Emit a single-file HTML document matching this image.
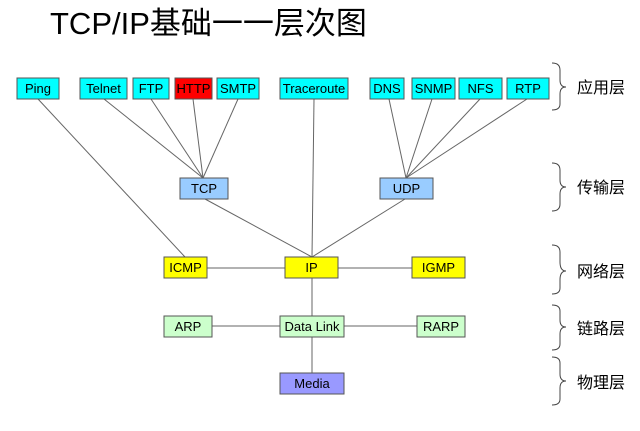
<!DOCTYPE html>
<html><head><meta charset="utf-8"><style>
body{margin:0;background:#fff;}
svg text{font-family:"Liberation Sans","Noto Sans CJK SC",sans-serif;}
</style></head><body>
<svg width="640" height="426" viewBox="0 0 640 426" xmlns="http://www.w3.org/2000/svg">
<text x="50" y="34" font-size="31" fill="#000">TCP/IP基础一一层次图</text>
<g stroke="#666" stroke-width="1" fill="none">
<line x1="38" y1="99" x2="185" y2="257"/>
<line x1="104" y1="99" x2="203" y2="178"/>
<line x1="151" y1="99" x2="203" y2="178"/>
<line x1="193" y1="99" x2="203" y2="178"/>
<line x1="238" y1="99" x2="203" y2="178"/>
<line x1="314" y1="99" x2="312" y2="257"/>
<line x1="389" y1="99" x2="406" y2="178"/>
<line x1="432" y1="99" x2="406" y2="178"/>
<line x1="480" y1="99" x2="406" y2="178"/>
<line x1="527" y1="99" x2="406" y2="178"/>
<line x1="205" y1="199" x2="312" y2="257"/>
<line x1="405" y1="199" x2="312" y2="257"/>
<line x1="207" y1="268" x2="285" y2="268"/>
<line x1="338" y1="268" x2="412" y2="268"/>
<line x1="312" y1="278" x2="312" y2="316"/>
<line x1="212" y1="326" x2="280" y2="326"/>
<line x1="344" y1="326" x2="417" y2="326"/>
<line x1="312" y1="337" x2="312" y2="373"/>
</g>
<g stroke="#555" stroke-width="1" font-size="13" text-anchor="middle">
<rect x="17" y="78" width="42" height="21" fill="#00ffff"/><text x="38" y="93" stroke="none">Ping</text>
<rect x="80" y="78" width="47" height="21" fill="#00ffff"/><text x="103.5" y="93" stroke="none">Telnet</text>
<rect x="133" y="78" width="36" height="21" fill="#00ffff"/><text x="151" y="93" stroke="none">FTP</text>
<rect x="175" y="78" width="37" height="21" fill="#ff0000"/><text x="193.5" y="93" stroke="none">HTTP</text>
<rect x="217" y="78" width="42" height="21" fill="#00ffff"/><text x="238" y="93" stroke="none">SMTP</text>
<rect x="280" y="78" width="68" height="21" fill="#00ffff"/><text x="314" y="93" stroke="none">Traceroute</text>
<rect x="370" y="78" width="34" height="21" fill="#00ffff"/><text x="387" y="93" stroke="none">DNS</text>
<rect x="412" y="78" width="43" height="21" fill="#00ffff"/><text x="433.5" y="93" stroke="none">SNMP</text>
<rect x="459" y="78" width="43" height="21" fill="#00ffff"/><text x="480.5" y="93" stroke="none">NFS</text>
<rect x="507" y="78" width="42" height="21" fill="#00ffff"/><text x="528" y="93" stroke="none">RTP</text>
<rect x="180" y="178" width="48" height="21" fill="#99ccff"/><text x="204" y="193" stroke="none">TCP</text>
<rect x="380" y="178" width="53" height="21" fill="#99ccff"/><text x="406.5" y="193" stroke="none">UDP</text>
<rect x="164" y="257" width="43" height="21" fill="#ffff00"/><text x="185.5" y="272" stroke="none">ICMP</text>
<rect x="285" y="257" width="53" height="21" fill="#ffff00"/><text x="311.5" y="272" stroke="none">IP</text>
<rect x="412" y="257" width="53" height="21" fill="#ffff00"/><text x="438.5" y="272" stroke="none">IGMP</text>
<rect x="164" y="316" width="48" height="21" fill="#ccffcc"/><text x="188" y="331" stroke="none">ARP</text>
<rect x="280" y="316" width="64" height="21" fill="#ccffcc"/><text x="312" y="331" stroke="none">Data Link</text>
<rect x="417" y="316" width="48" height="21" fill="#ccffcc"/><text x="441" y="331" stroke="none">RARP</text>
<rect x="280" y="373" width="64" height="21" fill="#9999ff"/><text x="312" y="388" stroke="none">Media</text>
</g>
<g stroke="#444" stroke-width="1" fill="none">
<path d="M552 63 Q560 63 560 70 L560 80 Q560 87 566 87 Q560 87 560 94 L560 104 Q560 110 552 110"/>
<path d="M552 163 Q560 163 560 170 L560 180 Q560 187 566 187 Q560 187 560 194 L560 204 Q560 211 552 211"/>
<path d="M552 245 Q560 245 560 252 L560 262 Q560 271 566 271 Q560 271 560 280 L560 288 Q560 294 552 294"/>
<path d="M552 305 Q560 305 560 311 L560 320 Q560 327 566 327 Q560 327 560 334 L560 344 Q560 350 552 350"/>
<path d="M552 357 Q560 357 560 363 L560 374 Q560 381 566 381 Q560 381 560 388 L560 399 Q560 405 552 405"/>
</g>
<g font-size="16" fill="#000">
<text x="577" y="93">应用层</text>
<text x="577" y="193">传输层</text>
<text x="577" y="277">网络层</text>
<text x="577" y="334">链路层</text>
<text x="577" y="388">物理层</text>
</g>
</svg>
</body></html>
